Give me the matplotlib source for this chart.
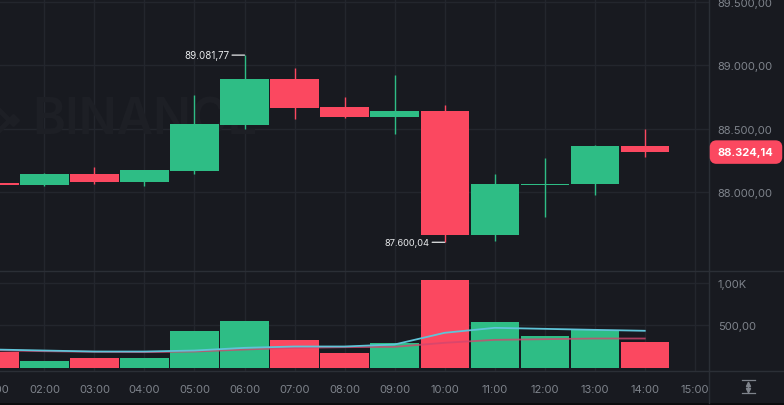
import matplotlib
matplotlib.use("Agg")
import matplotlib.pyplot as plt
from matplotlib.patches import FancyBboxPatch, Rectangle

plt.rcParams['font.family'] = ['Inter', 'DejaVu Sans']

hours = [1, 2, 3, 4, 5, 6, 7, 8, 9, 10, 11, 12, 13, 14]
opens = [88071, 88055, 88137, 88079, 88164, 88528, 88894, 88670, 88591, 88639, 87657, 88053, 88058, 88359]
closes = [88053, 88137, 88079, 88172, 88538, 88894, 88660, 88591, 88639, 87657, 88063, 88063, 88359, 88314]
highs = [88075, 88145, 88198, 88172, 88763, 89081.77, 88979, 88749, 88921, 88689, 88142, 88269, 88367, 88496]
lows = [88048, 88042, 88061, 88047, 88137, 88496, 88575, 88580, 88456, 87600.04, 87607, 87802, 87976, 88272]
volumes = [186, 79, 119, 111, 436, 548, 333, 171, 286, 1040, 544, 377, 452, 302]
ma_fast = [214, 202, 190, 190, 202, 234, 250, 250, 274, 413, 472, 460, 448, 437]
ma_slow = [206, 194, 187, 183, 190, 214, 234, 242, 246, 294, 329, 337, 345, 345]
price_ticks = [88000, 88500, 89000, 89500]
price_labels = ['88.000,00', '88.500,00', '89.000,00', '89.500,00']
vol_ticks = [500, 1000]
vol_labels = ['500,00', '1,00K']
time_ticks = list(range(2, 16))
time_labels = [f'{h:02d}:00' for h in time_ticks]
high_label = '89.081,77'
low_label = '87.600,04'
last_label = '88.324,14'

W, H = 784, 406
BG = '#181a20'
GRID = '#23262d'
SEP = '#2b2f36'
TXT = '#7f848c'
GREEN = '#2ebd85'
RED = '#fb4860'
MARK = '#1d1f25'

fig = plt.figure(figsize=(W / 100, H / 100), dpi=100, facecolor=BG)


def box(x0, y0, x1, y1):
    return [x0 / W, 1 - y1 / H, (x1 - x0) / W, (y1 - y0) / H]


ax = fig.add_axes(box(0, 0, 709.5, 271.7), facecolor=BG)
vx = fig.add_axes(box(0, 271.7, 709.5, 371.7), facecolor=BG, sharex=ax)
ax.set_xlim(1.1125, 15.294)
ax.set_ylim(87375, 89526)
vx.set_ylim(-38, 1152)

for a in (ax, vx):
    a.set_axisbelow(True)
    a.grid(True, color=GRID, lw=1)
    for s in a.spines.values():
        s.set_visible(False)
    a.tick_params(length=0)
ax.set_xticks(time_ticks)
vx.set_xticks(time_ticks)
ax.set_yticks(price_ticks)
vx.set_yticks(vol_ticks)
ax.tick_params(labelbottom=False, labelleft=False, labelright=True, right=False, left=False)
vx.tick_params(labelleft=False, labelright=True, right=False, left=False)
vx.set_xticklabels(time_labels, color=TXT, fontsize=8)
vx.tick_params(axis='x', pad=9.5)
ax.set_yticklabels(price_labels, color=TXT, fontsize=8, ha='left')
vx.set_yticklabels(vol_labels, color=TXT, fontsize=8, ha='left')
ax.tick_params(axis='y', pad=6)
vx.tick_params(axis='y', pad=6)

# first label falls partly outside the figure, as in the reference
vx.annotate('01:00', xy=(hours[0], 0), xycoords=('data', 'axes fraction'),
            xytext=(0, -9.5), textcoords='offset points', ha='center', va='top',
            color=TXT, fontsize=8, annotation_clip=False)

# watermark
ax.text(0.046, 0.556, 'BINANCE', transform=ax.transAxes, color=MARK,
        fontsize=36, fontweight='semibold', ha='left', va='center', zorder=1)
ax.plot([0.018], [0.556], transform=ax.transAxes, ls='none',
        marker='D', ms=6, color=MARK, zorder=1)
ax.plot([-0.014], [0.556], transform=ax.transAxes, ls='none', marker='D', ms=19,
        mfc='none', mec=MARK, mew=3.5, zorder=1)

width = 0.965
for h, o, c, hi, lo, v in zip(hours, opens, closes, highs, lows, volumes):
    col = GREEN if c >= o else RED
    ax.vlines(h, lo, hi, color=col, lw=1.0, zorder=3)
    ax.bar(h, abs(c - o), width=width, bottom=min(o, c), color=col, lw=0, zorder=4)
    vx.bar(h, v, width=width, color=col, lw=0, zorder=3)

vx.plot(hours, ma_slow, color='#d2466e', lw=1.3, alpha=0.8, zorder=4)
vx.plot(hours, ma_fast, color='#5fc4d8', lw=1.3, zorder=5)

# high / low markers
i_hi = highs.index(max(highs))
i_lo = lows.index(min(lows))
ax.annotate(high_label, xy=(hours[i_hi], highs[i_hi]), xytext=(-10.8, 0),
            textcoords='offset points', ha='right', va='center', color='#e6e8ea',
            fontsize=7, zorder=6)
ax.annotate('', xy=(hours[i_hi], highs[i_hi]), xytext=(-9, 0), textcoords='offset points',
            arrowprops=dict(arrowstyle='-', color='#e6e8ea', lw=0.9, shrinkA=0, shrinkB=0))
ax.annotate(low_label, xy=(hours[i_lo], lows[i_lo]), xytext=(-10.8, 0),
            textcoords='offset points', ha='right', va='center', color='#e6e8ea',
            fontsize=6.7, zorder=6)
ax.annotate('', xy=(hours[i_lo], lows[i_lo]), xytext=(-9, 0), textcoords='offset points',
            arrowprops=dict(arrowstyle='-', color='#e6e8ea', lw=0.9, shrinkA=0, shrinkB=0))

# overlay in pixel coordinates for chrome
ov = fig.add_axes([0, 0, 1, 1], facecolor='none')
ov.set_xlim(0, W)
ov.set_ylim(H, 0)
ov.axis('off')
ov.add_patch(Rectangle((0, 404), W, 2, color='#0b0c0e', lw=0))
ov.plot([709.5, 709.5], [0, 404], color=SEP, lw=1)
ov.plot([0, W], [271.7, 271.7], color=SEP, lw=1)
ov.plot([0, W], [371.7, 371.7], color=SEP, lw=1)

# last-price tag, centred on the last close
fig.canvas.draw()
ypx = H - ax.transData.transform((0, closes[-1]))[1]
ov.add_patch(FancyBboxPatch((712.5, ypx - 9), 67, 18, boxstyle='round,pad=0,rounding_size=4',
                            mutation_aspect=1, fc=RED, ec=RED, lw=5.5 * 0.72, zorder=5))
ov.text(745.8, ypx + 0.2, last_label, color='#ffffff', fontsize=8, fontweight='bold',
        ha='center', va='center', zorder=6)

# auto-scale icon
for y in (381.3, 394):
    ov.plot([742, 755], [y, y], color=TXT, lw=0.9)
ov.plot([748.5, 748.5], [383, 392.5], color=TXT, lw=0.9)
ov.plot([748.5], [384.5], ls='none', marker='^', ms=3, color=TXT)
ov.plot([748.5], [390.8], ls='none', marker='v', ms=3, color=TXT)

fig.savefig('out.png', dpi=100, facecolor=BG)
